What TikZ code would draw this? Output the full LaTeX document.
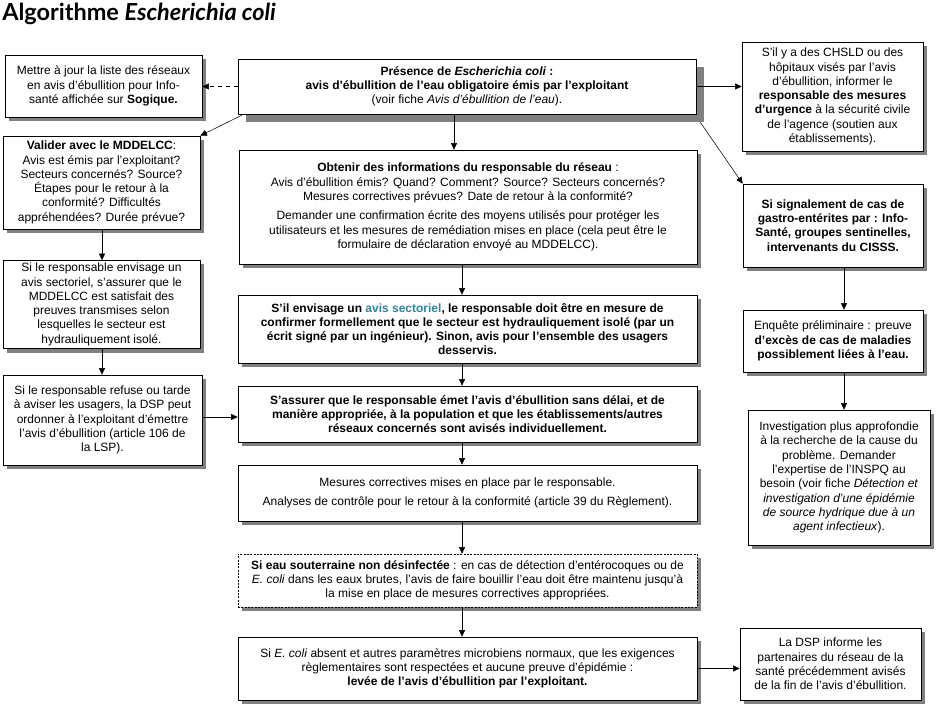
\documentclass[tikz,border=0pt]{standalone}
\usepackage{fontspec}
\setmainfont{Liberation Sans}
\newfontfamily\titlefont{Lato}
\usepackage{tikz}
\usetikzlibrary{arrows.meta, backgrounds}
\definecolor{sectblue}{RGB}{49,132,155}
\definecolor{shadowgray}{RGB}{128,128,128}
\tikzset{
  box/.style={draw, fill=white, align=center, inner sep=2pt,
    font=\fontsize{9}{10.7}\selectfont},
  boldbox/.style={box, font=\fontsize{9}{10.7}\selectfont\bfseries},
  sz/.style 2 args={minimum width=#1*0.75pt, minimum height=#2*0.75pt},
  arr/.style={->, thin},
}

\begin{document}
\begin{tikzpicture}[x=0.75pt, y=-0.75pt, >={Triangle[length=5pt,width=4.5pt]}]
    \useasboundingbox (0,0) rectangle (936,705);
    % titre
    \node[anchor=base west, inner sep=0pt, font=\titlefont\fontsize{17.6}{20}\selectfont\bfseries] (titre) at (2,21)
        {Algorithme \textit{Escherichia coli}};

    % colonne centrale
    \node[box, sz={458}{55}] (pres) at (467,86.5)
        {\textbf{Présence de \textit{Escherichia coli} :}\\
         \textbf{avis d'ébullition de l'eau obligatoire émis par l'exploitant}\\
         (voir fiche \textit{Avis d'ébullition de l'eau}).};
    \node[box, sz={458}{114}] (obtenir) at (468,207)
        {\textbf{Obtenir des informations du responsable du réseau} :\\
         Avis d'ébullition émis? Quand? Comment? Source? Secteurs concernés?\\
         Mesures correctives prévues? Date de retour à la conformité?\\[4pt]
         Demander une confirmation écrite des moyens utilisés pour protéger les\\
         utilisateurs et les mesures de remédiation mises en place (cela peut être le\\
         formulaire de déclaration envoyé au MDDELCC).};
    \node[boldbox, sz={459}{68}] (sectoriel) at (467.5,329)
        {S'il envisage un \textcolor{sectblue}{avis sectoriel}, le responsable doit être en mesure de\\
         confirmer formellement que le secteur est hydrauliquement isolé (par un\\
         écrit signé par un ingénieur). Sinon, avis pour l'ensemble des usagers\\
         desservis.};
    \node[boldbox, sz={459}{56}] (assurer) at (467.5,414)
        {S'assurer que le responsable émet l'avis d'ébullition sans délai, et de\\
         manière appropriée, à la population et que les établissements/autres\\
         réseaux concernés sont avisés individuellement.};
    \node[box, sz={459}{56}] (mesures) at (467.5,493)
        {Mesures correctives mises en place par le responsable.\\[3pt]
         Analyses de contrôle pour le retour à la conformité (article 39 du Règlement).};
    \node[box, sz={459}{53}, dash pattern=on 1.5pt off 1pt] (souterr) at (467.5,580.5)
        {\textbf{Si eau souterraine non désinfectée} : en cas de détection d'entérocoques ou de\\
         \textit{E. coli} dans les eaux brutes, l'avis de faire bouillir l'eau doit être maintenu jusqu'à\\
         la mise en place de mesures correctives appropriées.};
    \node[box, sz={459}{63}] (levee) at (467.5,668.5)
        {Si \textit{E. coli} absent et autres paramètres microbiens normaux, que les exigences\\
         règlementaires sont respectées et aucune preuve d'épidémie :\\
         \textbf{levée de l'avis d'ébullition par l'exploitant.}};

    % colonne gauche
    \node[box, sz={197}{62}] (maj) at (103.5,86)
        {Mettre à jour la liste des réseaux\\
         en avis d'ébullition pour Info-\\
         santé affichée sur \textbf{Sogique.}};
    \node[box, sz={197}{93}] (valider) at (101.5,182.5)
        {\textbf{Valider avec le MDDELCC}:\\
         Avis est émis par l'exploitant?\\
         Secteurs concernés? Source?\\
         Étapes pour le retour à la\\
         conformité? Difficultés\\
         appréhendées? Durée prévue?};
    \node[box, sz={197}{87}] (envisage) at (101.5,304.5)
        {Si le responsable envisage un\\
         avis sectoriel, s'assurer que le\\
         MDDELCC est satisfait des\\
         preuves transmises selon\\
         lesquelles le secteur est\\
         hydrauliquement isolé.};
    \node[box, sz={199}{90}] (refuse) at (102.5,420)
        {Si le responsable refuse ou tarde\\
         à aviser les usagers, la DSP peut\\
         ordonner à l'exploitant d'émettre\\
         l'avis d'ébullition (article 106 de\\
         la LSP).};

    % colonne droite
    \node[box, sz={181}{109}] (chsld) at (832.5,96.5)
        {S'il y a des CHSLD ou des\\
         hôpitaux visés par l'avis\\
         d'ébullition, informer le\\
         \textbf{responsable des mesures}\\
         \textbf{d'urgence} à la sécurité civile\\
         de l'agence (soutien aux\\
         établissements).};
    \node[boldbox, sz={180}{83}] (signal) at (833,225.5)
        {Si signalement de cas de\\
         gastro-entérites par : Info-\\
         Santé, groupes sentinelles,\\
         intervenants du CISSS.};
    \node[box, sz={180}{62}] (enquete) at (833,341)
        {Enquête préliminaire : preuve\\
         \textbf{d'excès de cas de maladies}\\
         \textbf{possiblement liées à l'eau.}};
    \node[box, sz={182}{135}] (invest) at (839,477.5)
        {Investigation plus approfondie\\
         à la recherche de la cause du\\
         problème. Demander\\
         l'expertise de l'INSPQ au\\
         besoin (voir fiche \textit{Détection et}\\
         \textit{investigation d'une épidémie}\\
         \textit{de source hydrique due à un}\\
         \textit{agent infectieux}).};
    \node[box, sz={181}{72}] (dspinf) at (830.5,664)
        {La DSP informe les\\
         partenaires du réseau de la\\
         santé précédemment avisés\\
         de la fin de l'avis d'ébullition.};

    % ombres
    \begin{scope}[on background layer]
        \fill[shadowgray] ([shift={(8,8)}]pres.north west) rectangle ([shift={(8,8)}]pres.south east);
        \foreach \n in {obtenir, sectoriel, assurer, mesures, souterr, levee,
                        maj, valider, envisage, refuse, chsld, signal, enquete, invest, dspinf}
            \fill[shadowgray] ([shift={(4,4)}]\n.north west) rectangle ([shift={(4,4)}]\n.south east);
    \end{scope}

    % reperes pour les fleches
    \coordinate (xa) at (454,0);
    \coordinate (xb) at (462,0);
    \coordinate (xg) at (102,0);
    \coordinate (xd) at (844,0);
    \coordinate (ya) at (0,417);

    % fleches
    \draw[arr, dashed] (pres.west) -- (maj.east |- pres.west);
    \draw[arr] (pres.east) -- (chsld.west |- pres.east);
    \draw[arr] ([shift={(4,1)}]pres.south west) -- (valider.north east);
    \draw[arr] ([shift={(4,8)}]pres.south east) -- (signal.north west);
    \draw[arr] (pres.south -| xa) -- (obtenir.north -| xa);
    \draw[arr] (obtenir.south -| xb) -- (sectoriel.north -| xb);
    \draw[arr] (sectoriel.south -| xb) -- (assurer.north -| xb);
    \draw[arr] (assurer.south -| xb) -- (mesures.north -| xb);
    \draw[arr] (mesures.south -| xb) -- (souterr.north -| xb);
    \draw[arr] (souterr.south -| xb) -- (levee.north -| xb);
    \draw[arr] (levee.east) -- (dspinf.west |- levee.east);
    \draw[arr] (valider.south -| xg) -- (envisage.north -| xg);
    \draw[arr] (envisage.south -| xg) -- (refuse.north -| xg);
    \draw[arr] (refuse.east |- ya) -- (assurer.west |- ya);
    \draw[arr] (signal.south -| xd) -- (enquete.north -| xd);
    \draw[arr] (enquete.south -| xd) -- (invest.north -| xd);
\end{tikzpicture}
\end{document}
